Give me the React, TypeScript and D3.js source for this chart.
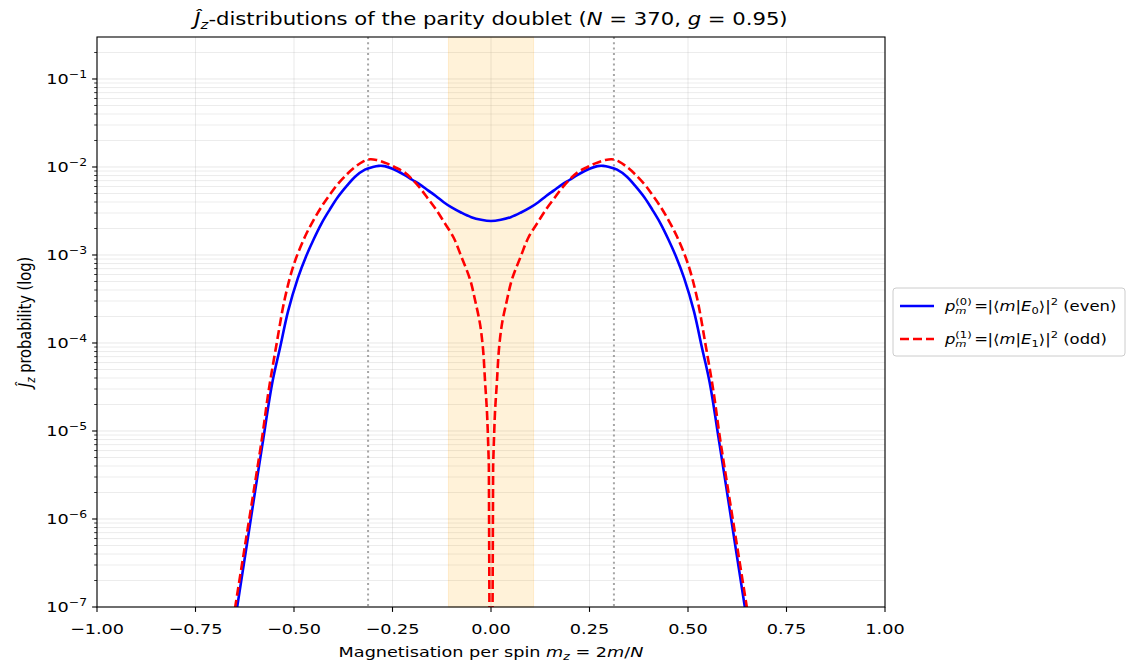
import React from "react";
import * as d3 from "d3";

// ---- data ----
const mzEven = [
  -0.66, -0.645, -0.62, -0.6, -0.58, -0.555, -0.535, -0.515, -0.49, -0.47, -0.45, -0.43, -0.41, -0.39,
  -0.365, -0.345, -0.32, -0.3, -0.285, -0.27, -0.25, -0.22, -0.2, -0.18, -0.16, -0.14, -0.12, -0.1,
  -0.075, -0.05, -0.025, 0, 0.025, 0.05, 0.075, 0.1, 0.12, 0.14, 0.16, 0.18, 0.2, 0.22, 0.25, 0.27,
  0.285, 0.3, 0.32, 0.345, 0.365, 0.39, 0.41, 0.43, 0.45, 0.47, 0.49, 0.515, 0.535, 0.555, 0.58, 0.6,
  0.62, 0.645, 0.66,
];
const pEven = [
  3.5e-8, 9.5e-8, 5.0e-7, 1.9e-6, 7.1e-6, 3.55e-5, 9.0e-5, 2.3e-4, 5.5e-4, 9.5e-4, 1.51e-3, 2.29e-3,
  3.24e-3, 4.47e-3, 6.17e-3, 7.76e-3, 9.33e-3, 1.0e-2, 1.03e-2, 1.023e-2, 9.55e-3, 8.13e-3, 7.16e-3,
  6.31e-3, 5.43e-3, 4.68e-3, 3.98e-3, 3.47e-3, 3.02e-3, 2.69e-3, 2.51e-3, 2.43e-3, 2.51e-3, 2.69e-3,
  3.02e-3, 3.47e-3, 3.98e-3, 4.68e-3, 5.43e-3, 6.31e-3, 7.16e-3, 8.13e-3, 9.55e-3, 1.023e-2, 1.03e-2,
  1.0e-2, 9.33e-3, 7.76e-3, 6.17e-3, 4.47e-3, 3.24e-3, 2.29e-3, 1.51e-3, 9.5e-4, 5.5e-4, 2.3e-4,
  9.0e-5, 3.55e-5, 7.1e-6, 1.9e-6, 5.0e-7, 9.5e-8, 3.5e-8,
];

const mzOdd = [
  -0.665, -0.65, -0.625, -0.6, -0.58, -0.565, -0.545, -0.523, -0.5, -0.472, -0.45, -0.43, -0.41, -0.39,
  -0.365, -0.345, -0.325, -0.307, -0.29, -0.265, -0.245, -0.22, -0.2, -0.18, -0.16, -0.14, -0.12, -0.095,
  -0.075, -0.053, -0.04, -0.028, -0.02, -0.015, -0.01, -0.0054, 0, 0.0054, 0.01, 0.015, 0.02, 0.028,
  0.04, 0.053, 0.075, 0.095, 0.12, 0.14, 0.16, 0.18, 0.2, 0.22, 0.245, 0.265, 0.29, 0.307, 0.325, 0.345,
  0.365, 0.39, 0.41, 0.43, 0.45, 0.472, 0.5, 0.523, 0.545, 0.565, 0.58, 0.6, 0.625, 0.65, 0.665,
];
const pOdd = [
  3.5e-8, 9.5e-8, 4.8e-7, 2.4e-6, 9.0e-6, 2.75e-5, 9.3e-5, 3.24e-4, 7.9e-4, 1.62e-3, 2.51e-3, 3.55e-3,
  4.79e-3, 6.31e-3, 8.32e-3, 1.0e-2, 1.15e-2, 1.225e-2, 1.2e-2, 1.1e-2, 1.0e-2, 8.71e-3, 7.24e-3,
  5.75e-3, 4.37e-3, 3.31e-3, 2.4e-3, 1.58e-3, 9.5e-4, 5.25e-4, 3.0e-4, 1.66e-4, 8.3e-5, 3.6e-5,
  1.58e-5, 4.0e-6, 0, 4.0e-6, 1.58e-5, 3.6e-5, 8.3e-5, 1.66e-4, 3.0e-4, 5.25e-4, 9.5e-4, 1.58e-3,
  2.4e-3, 3.31e-3, 4.37e-3, 5.75e-3, 7.24e-3, 8.71e-3, 1.0e-2, 1.1e-2, 1.2e-2, 1.225e-2, 1.15e-2,
  1.0e-2, 8.32e-3, 6.31e-3, 4.79e-3, 3.55e-3, 2.51e-3, 1.62e-3, 7.9e-4, 3.24e-4, 9.3e-5, 2.75e-5,
  9.0e-6, 2.4e-6, 4.8e-7, 9.5e-8, 3.5e-8,
];

const xTicks = [-1, -0.75, -0.5, -0.25, 0, 0.25, 0.5, 0.75, 1];
const yDecades = [-7, -6, -5, -4, -3, -2, -1];
const mzClassical = [-0.312, 0.312]; // dotted markers
const band = [-0.108, 0.108]; // shaded window around 0

const FONT = "DejaVu Sans";
const SX = 1.21; // the reference text is wider than it is tall
const FS = 14.6;
const FSL = 13.6; // legend

type Seg = { t: string; it?: boolean; sub?: boolean; sup?: boolean };

// poor man's mathtext: tspans shifted with dy
const Rich = ({ segs, size }: { segs: Seg[]; size: number }) => {
  let cur = 0;
  return (
    <>
      {segs.map((s, i) => {
        const shift = s.sub ? size * 0.22 : s.sup ? -size * 0.42 : 0;
        const dy = shift - cur;
        cur = shift;
        return (
          <tspan
            key={i}
            dy={dy}
            fontStyle={s.it ? "italic" : "normal"}
            fontSize={s.sub || s.sup ? size * 0.7 : size}
          >
            {s.t}
          </tspan>
        );
      })}
    </>
  );
};

const SText = ({
  x,
  y,
  size = FS,
  anchor = "start",
  children,
}: {
  x: number;
  y: number;
  size?: number;
  anchor?: string;
  children: React.ReactNode;
}) => (
  <text transform={`translate(${x},${y}) scale(${SX},1)`} fontSize={size} textAnchor={anchor}>
    {children}
  </text>
);

export default function App() {
  const left = 97, right = 885, top = 37, bottom = 607;
  const x = d3.scaleLinear().domain([-1, 1]).range([left, right]);
  const y = d3.scaleLog().domain([1e-7, 0.3]).range([bottom, top]);
  const fmt = d3.format(".2f");

  const line = d3
    .line<[number, number]>()
    .x((d) => x(d[0]))
    .y((d) => y(d[1]))
    .curve(d3.curveCatmullRom.alpha(0.5));

  const evenPts = mzEven.map((m, i) => [m, pEven[i]] as [number, number]);
  const oddPts = mzOdd.map((m, i) => [m, pOdd[i]] as [number, number]);

  // the odd state vanishes at m = 0: go straight down off the axis there
  const node = oddPts.find((d) => d[1] === 0)!;
  const oddL = line(oddPts.filter((d) => d[0] < node[0])) || "";
  const oddR = line(oddPts.filter((d) => d[0] > node[0])) || "";
  const oddPath = `${oddL}L${x(node[0])},${bottom + 400}${oddR.replace(/^M/, "L")}`;

  const minor: number[] = [];
  yDecades.forEach((k) => {
    for (let j = 2; j <= 9; j++) {
      const v = j * Math.pow(10, k);
      if (v <= 0.3) minor.push(v);
    }
  });

  const lx = 893, ly = 288, lw = 232, lh = 68;
  const sm = FSL * 0.7;

  return (
    <svg
      width={1128}
      height={668}
      style={{ position: "absolute", left: 0, top: 0, background: "white" }}
      fontFamily={FONT}
    >
      <defs>
        <clipPath id="plot">
          <rect x={left} y={top} width={right - left} height={bottom - top} />
        </clipPath>
      </defs>

      {/* grid */}
      <g stroke="#b0b0b0" strokeWidth={0.8}>
        {xTicks.map((t) => (
          <line key={t} x1={x(t)} x2={x(t)} y1={top} y2={bottom} strokeOpacity={0.35} />
        ))}
        {yDecades.map((k) => (
          <line key={k} x1={left} x2={right} y1={y(Math.pow(10, k))} y2={y(Math.pow(10, k))} strokeOpacity={0.35} />
        ))}
        {minor.map((v) => (
          <line key={v} x1={left} x2={right} y1={y(v)} y2={y(v)} strokeOpacity={0.3} />
        ))}
      </g>

      {/* shaded band */}
      <rect
        x={x(band[0])}
        y={top}
        width={x(band[1]) - x(band[0])}
        height={bottom - top}
        fill="orange"
        fillOpacity={0.15}
        stroke="orange"
        strokeOpacity={0.15}
      />

      {/* dotted markers */}
      {mzClassical.map((m) => (
        <line
          key={m}
          x1={x(m)}
          x2={x(m)}
          y1={top}
          y2={bottom}
          stroke="gray"
          strokeOpacity={0.7}
          strokeWidth={2}
          strokeDasharray="2,3.3"
        />
      ))}

      <g clipPath="url(#plot)" fill="none">
        <path d={line(evenPts) || ""} stroke="#0000ff" strokeWidth={2.6} />
        <path d={oddPath} stroke="#ff0000" strokeWidth={2.6} strokeDasharray="9,4" />
      </g>

      {/* frame */}
      <rect x={left} y={top} width={right - left} height={bottom - top} fill="none" stroke="#000" strokeWidth={1.1} />

      {/* x ticks */}
      {xTicks.map((t) => (
        <g key={t}>
          <line x1={x(t)} x2={x(t)} y1={bottom} y2={bottom + 4.9} stroke="#000" strokeWidth={1.1} />
          <SText x={x(t)} y={634} anchor="middle">
            {fmt(t)}
          </SText>
        </g>
      ))}

      {/* y ticks */}
      {yDecades.map((k) => (
        <g key={k}>
          <line x1={left - 4.9} x2={left} y1={y(Math.pow(10, k))} y2={y(Math.pow(10, k))} stroke="#000" strokeWidth={1.1} />
          <SText x={87} y={y(Math.pow(10, k)) + 5.3} anchor="end">
            <Rich size={FS} segs={[{ t: "10" }, { t: "−" + -k, sup: true }]} />
          </SText>
        </g>
      ))}
      {minor.map((v) => (
        <line key={v} x1={left - 2.8} x2={left} y1={y(v)} y2={y(v)} stroke="#000" strokeWidth={0.8} />
      ))}

      {/* axis labels */}
      <SText x={(left + right) / 2} y={657} anchor="middle">
        <Rich
          size={FS}
          segs={[
            { t: "Magnetisation per spin " },
            { t: "m", it: true },
            { t: "z", it: true, sub: true },
            { t: " = 2" },
            { t: "m", it: true },
            { t: "/" },
            { t: "N", it: true },
          ]}
        />
      </SText>
      <text
        transform={`translate(31, ${(top + bottom) / 2}) scale(${SX},1) rotate(-90)`}
        fontSize={FS}
        textAnchor="middle"
      >
        <Rich size={FS} segs={[{ t: "Ĵ", it: true }, { t: "z", it: true, sub: true }, { t: " probability (log)" }]} />
      </text>

      {/* title */}
      <SText x={(left + right) / 2} y={25} size={17.5} anchor="middle">
        <Rich
          size={17.5}
          segs={[
            { t: "Ĵ", it: true },
            { t: "z", it: true, sub: true },
            { t: "-distributions of the parity doublet (" },
            { t: "N", it: true },
            { t: " = 370, " },
            { t: "g", it: true },
            { t: " = 0.95)" },
          ]}
        />
      </SText>

      {/* legend */}
      <rect x={lx} y={ly} width={lw} height={lh} rx={3} fill="white" fillOpacity={0.8} stroke="#cccccc" strokeWidth={1} />
      {[
        { idx: "0", tag: "(even)", color: "#0000ff", dash: "none" },
        { idx: "1", tag: "(odd)", color: "#ff0000", dash: "9,4" },
      ].map((e, i) => {
        const cy = ly + 18 + i * 33;
        const base = cy + 5;
        return (
          <g key={e.idx}>
            <line x1={900} x2={934} y1={cy} y2={cy} stroke={e.color} strokeWidth={2.6} strokeDasharray={e.dash} />
            <text transform={`translate(944,${base}) scale(${SX},1)`} fontSize={FSL}>
              <tspan x={0.8} y={0} fontStyle="italic">p</tspan>
              <tspan x={9.4} y={-6.2} fontSize={sm}>({e.idx})</tspan>
              <tspan x={9.4} y={3.4} fontSize={sm} fontStyle="italic">m</tspan>
              <tspan x={25} y={0}>=</tspan>
              <tspan x={36} y={0}>|⟨</tspan>
              <tspan fontStyle="italic">m</tspan>
              <tspan>|</tspan>
              <tspan fontStyle="italic">E</tspan>
              <tspan dy={3} fontSize={sm}>{e.idx}</tspan>
              <tspan dy={-3}>⟩|</tspan>
              <tspan dy={-5.8} fontSize={sm}>2</tspan>
              <tspan x={98.5} y={0}>{e.tag}</tspan>
            </text>
          </g>
        );
      })}
    </svg>
  );
}
